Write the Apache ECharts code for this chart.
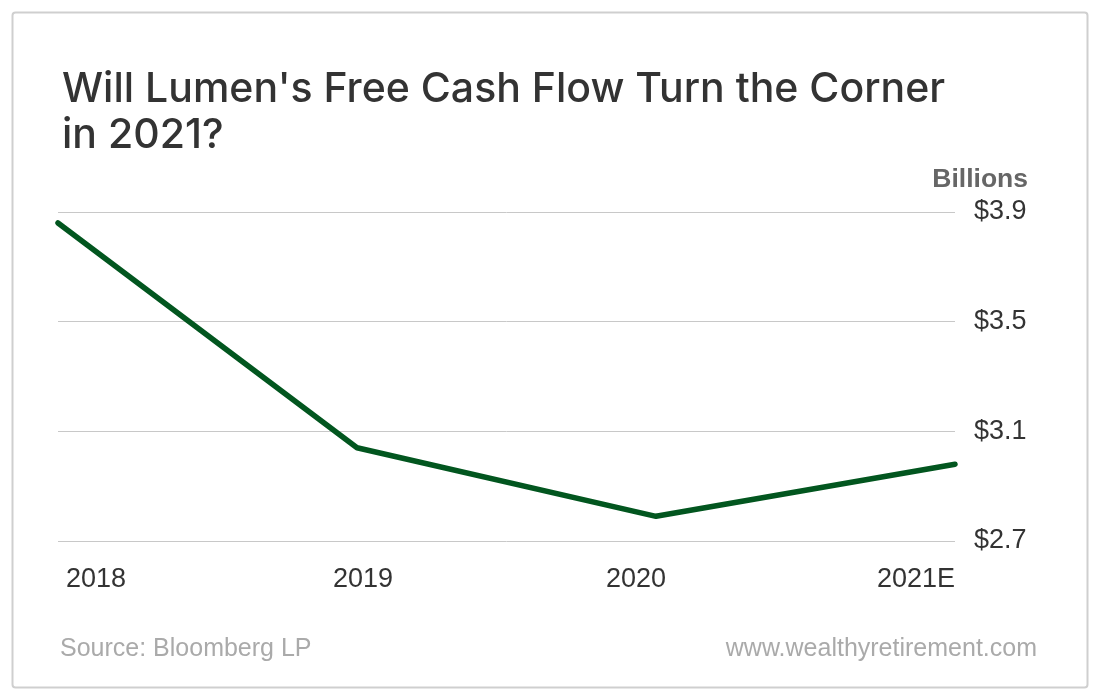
<!DOCTYPE html>
<html>
<head>
<meta charset="utf-8">
<script src="https://cdn.jsdelivr.net/npm/echarts@6/dist/echarts.min.js"></script>
<style>html,body{margin:0;padding:0;background:#fff}#c{width:1100px;height:700px}</style>
</head>
<body>
<div id="c"></div>
<script>
const years = ['2018', '2019', '2020', '2021E'];
const freeCashFlow = [3.86, 3.04, 2.79, 2.98];
const yTicks = { min: 2.7, max: 3.9, step: 0.4 };
const titleText = "Will Lumen's Free Cash Flow Turn the Corner\nin 2021?";
const unitLabel = 'Billions';
const sourceText = 'Source: Bloomberg LP';
const siteText = 'www.wealthyretirement.com';

const FONT = '"Liberation Sans", Arial, Helvetica, sans-serif';
const TFONT = 'Inter, "Liberation Sans", Arial, sans-serif';
const labelRich = {
  a: { fontFamily: FONT, fontSize: 27, color: '#333', padding: [0, 0, 0, 8] },
  b: { fontFamily: FONT, fontSize: 27, color: '#333', padding: [0, 0, 0, 12] },
  c: { fontFamily: FONT, fontSize: 27, color: '#333', padding: [0, 40, 0, 0] },
  d: { fontFamily: FONT, fontSize: 27, color: '#333' }
};
const chart = echarts.init(document.getElementById('c'), null, { renderer: 'canvas' });
chart.setOption({
  backgroundColor: '#fff',
  animation: false,
  title: {
    text: titleText,
    left: 57, top: 62,
    textStyle: { fontFamily: TFONT, fontSize: 41, fontWeight: 500, color: '#333', lineHeight: 46 }
  },
  graphic: [
    { type: 'rect', shape: { x: 12.5, y: 12.5, width: 1075, height: 675, r: 3 },
      style: { fill: 'none', stroke: '#cfcfcf', lineWidth: 2 }, silent: true },
    { type: 'text', right: 72, top: 166,
      style: { text: unitLabel, font: 'bold 26.5px ' + FONT, fill: '#666' } },
    { type: 'text', left: 60, top: 637,
      style: { text: sourceText, font: '25px ' + FONT, fill: '#aaa' } },
    { type: 'text', right: 63, top: 637,
      style: { text: siteText, font: '25px ' + FONT, fill: '#aaa' } }
  ],
  grid: { left: 58, right: 145, top: 212, bottom: 159, containLabel: false },
  xAxis: {
    type: 'category',
    data: years,
    boundaryGap: false,
    axisLine: { show: false },
    axisTick: { show: false },
    splitLine: { show: false },
    axisLabel: {
      margin: 25, fontFamily: FONT, fontSize: 27, color: '#333',
      alignMinLabel: 'left', alignMaxLabel: 'right',
      formatter: (v, i) => '{' + 'abcd'[i] + '|' + v + '}',
      rich: labelRich
    }
  },
  yAxis: {
    type: 'value',
    position: 'right',
    min: yTicks.min, max: yTicks.max, interval: yTicks.step,
    axisLine: { show: false },
    axisTick: { show: false },
    splitLine: { lineStyle: { color: '#c8c8c8', width: 1 } },
    axisLabel: {
      margin: 19, fontFamily: FONT, fontSize: 27, color: '#333',
      formatter: v => '$' + v.toFixed(1)
    }
  },
  series: [{
    type: 'line',
    data: freeCashFlow,
    symbol: 'none',
    lineStyle: { color: '#02561f', width: 5.5, cap: 'round', join: 'round' }
  }]
});
</script>
</body>
</html>
